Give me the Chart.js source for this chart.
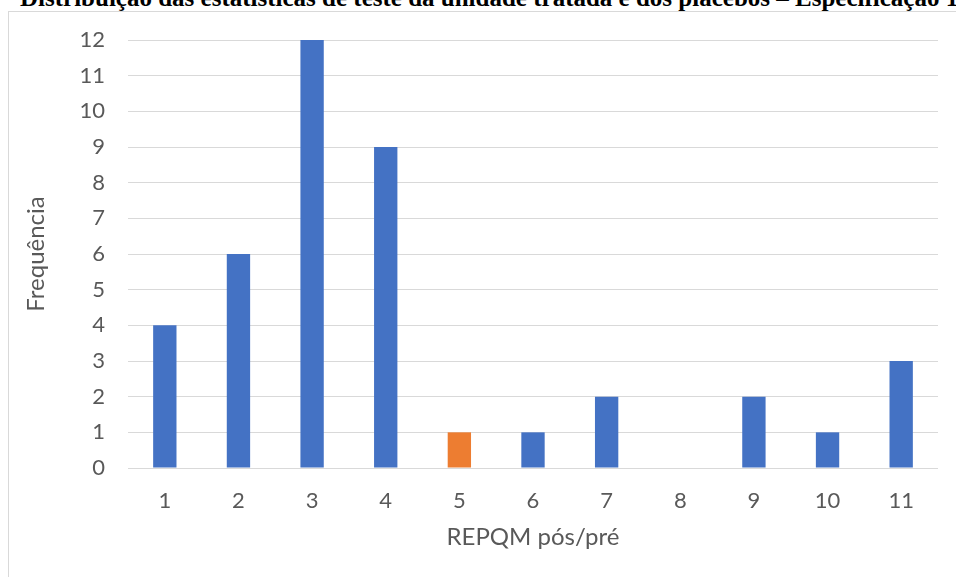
<!DOCTYPE html>
<html>
<head>
<meta charset="utf-8">
<script src="https://cdn.jsdelivr.net/npm/chart.js@4"></script>
<style>
  html, body { margin: 0; padding: 0; background: #fff; overflow: hidden; }
  body { width: 956px; height: 577px; position: relative; }
  #title {
    position: absolute; left: 20px; top: -14px; z-index: 1;
    font: bold 25px "Liberation Serif", "Times New Roman", serif;
    line-height: 24px; white-space: nowrap; color: #000;
  }
  #frame {
    position: absolute; left: 8px; top: 11px; width: 1000px; height: 600px;
    border-left: 1px solid #d9d9d9; border-top: 1px solid #d9d9d9;
    background: #fff; z-index: 2;
  }
  #wrap { position: absolute; left: 0; top: 0; width: 956px; height: 577px; z-index: 3; }
</style>
</head>
<body>
<div id="title">Distribuição das estatísticas de teste da unidade tratada e dos placebos – Especificação 1</div>
<div id="frame"></div>
<div id="wrap"><canvas id="chart"></canvas></div>
<script>
const categories = ['1', '2', '3', '4', '5', '6', '7', '8', '9', '10', '11'];
const frequencies = [4, 6, 12, 9, 1, 1, 2, 0, 2, 1, 3];
const treatedIndex = 4; // unidade tratada (laranja)
const yTicks = [0, 1, 2, 3, 4, 5, 6, 7, 8, 9, 10, 11, 12];

const blue = '#4472C4';
const orange = '#ED7D31';
const textColor = '#595959';
const font = 'Lato';

const colors = frequencies.map((v, i) => i === treatedIndex ? orange : blue);

const ctx = document.getElementById('chart').getContext('2d');
new Chart(ctx, {
  type: 'bar',
  data: {
    labels: categories,
    datasets: [{
      data: frequencies,
      backgroundColor: colors,
      borderWidth: 0,
      barPercentage: 0.317,
      categoryPercentage: 1
    }]
  },
  options: {
    responsive: true,
    maintainAspectRatio: false,
    animation: false,
    layout: { padding: { left: 0, right: 18, top: 40, bottom: 0 } },
    plugins: { legend: { display: false }, tooltip: { enabled: false } },
    scales: {
      x: {
        grid: { display: false, drawTicks: false },
        border: { display: false },
        ticks: { color: textColor, font: { family: font, size: 22 }, padding: 20 },
        title: {
          display: true, text: 'REPQM pós/pré', color: textColor,
          font: { family: font, size: 24 }, padding: { top: 0, bottom: 25 }
        },
        afterFit: s => { s.height = 109; }
      },
      y: {
        min: 0, max: 12,
        afterBuildTicks: s => { s.ticks = yTicks.map(v => ({ value: v })); },
        grid: { color: '#d9d9d9', lineWidth: 1, drawTicks: false },
        border: { display: false },
        ticks: { color: textColor, font: { family: font, size: 22 }, padding: 23 },
        title: {
          display: true, text: 'Frequência', color: textColor,
          font: { family: font, size: 24 }, padding: { top: 22, bottom: 0 }
        },
        afterFit: s => { s.width = 128; }
      }
    }
  }
});
</script>
</body>
</html>
